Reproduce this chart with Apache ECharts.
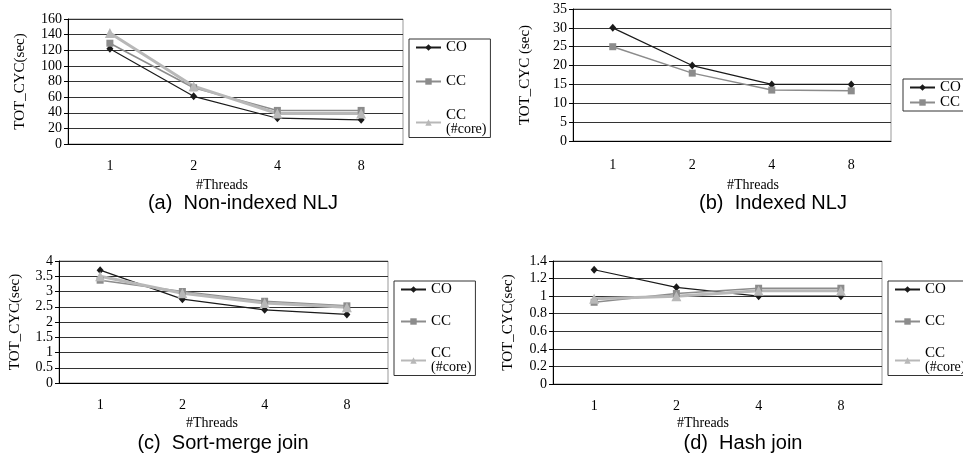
<!DOCTYPE html>
<html>
<head>
<meta charset="utf-8">
<script src="https://cdn.jsdelivr.net/npm/echarts@6/dist/echarts.min.js"></script>
<style>
  html, body { margin: 0; padding: 0; background: #fff; }
  #main { width: 963px; height: 466px; }
</style>
</head>
<body>
<div id="main"></div>
<script>
// x categories, shared by all four panels
const threads = ['1', '2', '4', '8'];

// (a) Non-indexed NLJ
const nljCO = [122, 61, 33, 31];
const nljCC = [129, 72, 43, 43];
const nljCore = [142, 74, 39, 39];

// (b) Indexed NLJ
const idxCO = [30, 20, 15, 15];
const idxCC = [25, 18, 13.5, 13.3];

// (c) Sort-merge join
const smjCO = [3.7, 2.75, 2.4, 2.25];
const smjCC = [3.37, 3.0, 2.68, 2.53];
const smjCore = [3.5, 2.94, 2.62, 2.48];

// (d) Hash join
const hjCO = [1.3, 1.1, 1.0, 1.0];
const hjCC = [0.93, 1.03, 1.09, 1.09];
const hjCore = [0.97, 1.0, 1.06, 1.06];

const serif = 'Liberation Serif';
const sans = 'Liberation Sans';

const chart = echarts.init(document.getElementById('main'));

function xAxis(i, margin) {
    return {
        type: 'category',
        gridIndex: i,
        data: threads,
        boundaryGap: true,
        axisLine: { lineStyle: { color: '#000', width: 1 } },
        axisTick: { length: 5, lineStyle: { color: '#000' } },
        axisLabel: { margin: margin, color: '#000', fontFamily: serif, fontSize: 14 }
    };
}

function yAxis(i, max, interval, name, gap) {
    return {
        type: 'value',
        gridIndex: i,
        min: 0,
        max: max,
        interval: interval,
        name: name,
        nameLocation: 'middle',
        nameGap: gap,
        nameTextStyle: { color: '#000', fontFamily: serif, fontSize: 15 },
        axisLine: { show: true, lineStyle: { color: '#000', width: 1 } },
        axisTick: { show: true, length: 4, lineStyle: { color: '#000' } },
        axisLabel: { margin: 6, color: '#000', fontFamily: serif, fontSize: 14 },
        splitLine: { show: true, lineStyle: { color: '#333', width: 1 } }
    };
}

function coLine(i, data) {
    return {
        name: 'CO', type: 'line', xAxisIndex: i, yAxisIndex: i, data: data,
        symbol: 'diamond', symbolSize: [7, 8],
        lineStyle: { color: '#1a1a1a', width: 1.2 },
        itemStyle: { color: '#1a1a1a' }
    };
}

function ccLine(i, data) {
    return {
        name: 'CC', type: 'line', xAxisIndex: i, yAxisIndex: i, data: data,
        symbol: 'rect', symbolSize: 7,
        lineStyle: { color: '#8c8c8c', width: 1.5 },
        itemStyle: { color: '#8c8c8c' }
    };
}

function coreLine(i, data) {
    return {
        name: 'CC (#core)', type: 'line', xAxisIndex: i, yAxisIndex: i, data: data,
        symbol: 'triangle', symbolSize: 10,
        lineStyle: { color: '#b8b8b8', width: 3 },
        itemStyle: { color: '#b8b8b8' }
    };
}

function legend(left, top, names, gap, lineH) {
    return {
        orient: 'vertical',
        left: left,
        top: top,
        data: names,
        itemGap: gap,
        itemWidth: 25,
        itemHeight: 8,
        padding: [1, 4, 1, 6],
        borderColor: '#333',
        borderWidth: 1,
        selectedMode: false,
        textStyle: {
            color: '#000', fontFamily: serif, fontSize: 15, lineHeight: lineH,
            rich: { s: { fontFamily: serif, fontSize: 14, lineHeight: 14 } }
        },
        formatter: function (n) {
            return n === 'CC (#core)' ? 'CC\n{s|(#core)}' : n;
        }
    };
}

function label(x, y, text, font, size) {
    return {
        type: 'text', x: x, y: y,
        style: { text: text, fill: '#000', font: size + 'px "' + font + '"', textAlign: 'center', textVerticalAlign: 'middle' }
    };
}

const option = {
    animation: false,
    grid: [
        { left: 68, top: 19, width: 335, height: 125, show: true, borderColor: '#999', borderWidth: 1 },
        { left: 573, top: 9, width: 318, height: 132, show: true, borderColor: '#999', borderWidth: 1 },
        { left: 59, top: 261, width: 329, height: 122, show: true, borderColor: '#999', borderWidth: 1 },
        { left: 553, top: 261, width: 329, height: 123, show: true, borderColor: '#999', borderWidth: 1 }
    ],
    xAxis: [xAxis(0, 15), xAxis(1, 17), xAxis(2, 15), xAxis(3, 15)],
    yAxis: [
        yAxis(0, 160, 20, 'TOT_CYC(sec)', 40),
        yAxis(1, 35, 5, 'TOT_CYC (sec)', 40),
        yAxis(2, 4, 0.5, 'TOT_CYC(sec)', 36),
        yAxis(3, 1.4, 0.2, 'TOT_CYC(sec)', 37)
    ],
    legend: [
        legend(409, 39, ['CO', 'CC', 'CC (#core)'], 19, 14),
        legend(903, 79, ['CO', 'CC'], 0, 8),
        legend(394, 281, ['CO', 'CC', 'CC (#core)'], 17, 14),
        legend(888, 281, ['CO', 'CC', 'CC (#core)'], 17, 14)
    ],
    graphic: [
        label(222, 185, '#Threads', serif, 14),
        label(753, 185, '#Threads', serif, 14),
        label(212, 423, '#Threads', serif, 14),
        label(703, 423, '#Threads', serif, 14),
        label(243, 203, '(a)  Non-indexed NLJ', sans, 20),
        label(773, 203, '(b)  Indexed NLJ', sans, 20),
        label(223, 443, '(c)  Sort-merge join', sans, 20),
        label(743, 443, '(d)  Hash join', sans, 20)
    ],
    series: [
        coLine(0, nljCO), ccLine(0, nljCC), coreLine(0, nljCore),
        coLine(1, idxCO), ccLine(1, idxCC),
        coLine(2, smjCO), ccLine(2, smjCC), coreLine(2, smjCore),
        coLine(3, hjCO), ccLine(3, hjCC), coreLine(3, hjCore)
    ]
};

chart.setOption(option);
</script>
</body>
</html>
